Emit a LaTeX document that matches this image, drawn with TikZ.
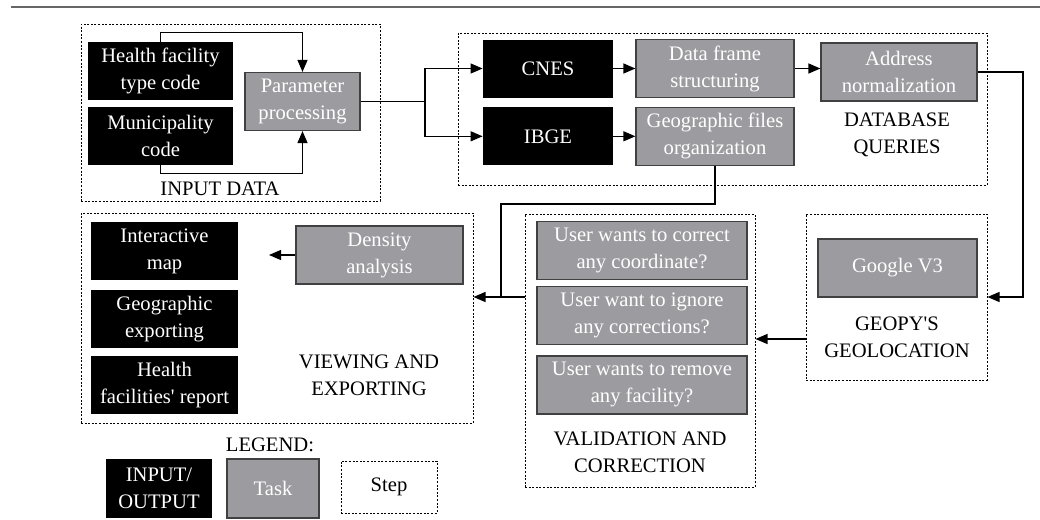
\documentclass[tikz,border=0pt]{standalone}
\usepackage{fontspec}
\setmainfont{Liberation Serif}
\usepackage{tikz}
\usetikzlibrary{arrows.meta, positioning}
\definecolor{taskgray}{RGB}{156,155,160}
\tikzset{
    >={Triangle[length=6pt,width=5pt]}, % solid triangle heads
    box/.style={inner sep=0pt, align=center, minimum height=29pt}, % common to every box
    io/.style={box, fill=black, text=white}, % input / output boxes
    task/.style={box, fill=taskgray, draw=black!75, line width=0.6pt, text=white}, % task boxes
    stage/.style={draw, line width=0.5pt, dash pattern=on 1pt off 0.8pt, inner sep=0pt}, % dotted frame round a step
    stagename/.style={align=center, inner sep=0pt}, % title of a step
    flow/.style={->, line width=0.6pt}, % connector with a head
    link/.style={line width=0.6pt}, % connector without a head
}

\begin{document}
\begin{tikzpicture}[x=0.5pt, y=-0.5pt, font=\fontsize{10.3}{13.5}\selectfont]
    \useasboundingbox (0,0) rectangle (1040,520);
    % rule along the top
    \draw[black!60, line width=1pt] (11,7) -- (1040,7);

    % frames of the steps
    \node[stage, minimum width=149.5pt, minimum height=88.5pt] (input) at (230.5,112.5) {};
    \node[stage, minimum width=264.5pt, minimum height=76pt] (dbq) at (722.5,109) {};
    \node[stage, minimum width=196pt, minimum height=105pt] (view) at (277,318) {};
    \node[stage, minimum width=115pt, minimum height=136.5pt] (valid) at (640,350.5) {};
    \node[stage, minimum width=90.5pt, minimum height=83pt] (geo) at (896.5,297) {};

    % input data
    \node[io, minimum width=72.5pt] (hf) at (160.5,71) {Health facility\\type code};
    \node[io, minimum width=72.5pt, below=3pt of hf] (mun) {Municipality\\code};
    \node[task, minimum width=57.5pt] (param) at (302.5,101.5) {Parameter\\processing};
    \node[stagename] (inputname) at (220,189) {INPUT DATA};

    % database queries
    \node[io, minimum width=65pt] (cnes) at (548,68.5) {CNES};
    \node[io, minimum width=65pt, below=4.5pt of cnes] (ibge) {IBGE};
    \node[task, minimum width=79pt, right=11pt of cnes] (dframe) {Data frame\\structuring};
    \node[task, minimum width=79pt, right=11pt of ibge] (gfiles) {Geographic files\\organization};
    \node[task, minimum width=78pt] (addr) at (899,72) {Address\\normalization};
    \node[stagename] (dbqname) at (897,135) {DATABASE\\QUERIES};

    % geolocation
    \node[task, minimum width=79.5pt] (gv3) at (897.5,268) {Google V3};
    \node[stagename] (geoname) at (897,337) {GEOPY\textquotesingle S\\GEOLOCATION};

    % validation and correction
    \node[task, minimum width=105pt] (q1) at (642,250.5) {User wants to correct\\any coordinate?};
    \node[task, minimum width=105pt, below=3pt of q1] (q2) {User want to ignore\\any corrections?};
    \node[task, minimum width=105pt, below=5pt of q2] (q3) {User wants to remove\\any facility?};
    \node[stagename] (validname) at (640,452) {VALIDATION AND\\CORRECTION};

    % viewing and exporting
    \node[io, minimum width=73.5pt] (imap) at (164.5,251) {Interactive\\map};
    \node[io, minimum width=73.5pt, below=4.5pt of imap] (gexp) {Geographic\\exporting};
    \node[io, minimum width=73.5pt, below=3.5pt of gexp] (report) {Health\\facilities\textquotesingle{} report};
    \node[task, minimum width=83.5pt] (dens) at (379.5,255) {Density\\analysis};
    \node[stagename] (viewname) at (369,375) {VIEWING AND\\EXPORTING};

    % legend
    \node[stagename] (legend) at (270,445) {LEGEND:};
    \node[io, minimum width=53pt, minimum height=29.5pt] (lio) at (159,488.5) {INPUT/\\OUTPUT};
    \node[task, minimum width=46pt, minimum height=29.5pt] (ltask) at (273,488.5) {Task};
    \node[stage, minimum width=48pt, minimum height=26pt] (lstep) at (389,487) {Step};

    % connectors
    \coordinate (split) at (425,101.5);
    \coordinate (merge) at (501,297);
    \coordinate (rgutter) at (1023,297);
    \coordinate (dout) at (269,255);

    \draw[flow] (hf.north) -- ++(0,-9) -| (param.north);
    \draw[flow] (mun.south) -- ++(0,8) -| (param.south);
    \draw[link] (param.east) -- (split);
    \draw[flow] (split) |- (cnes.west);
    \draw[flow] (split) |- (ibge.west);
    \draw[flow] (cnes) -- (dframe);
    \draw[flow] (ibge) -- (gfiles);
    \draw[flow] (dframe.east) -- (dframe.east -| addr.west);
    \draw[flow] (addr.east) -| (rgutter) -- (rgutter -| geo.east);
    \draw[flow] ([yshift=-21pt]geo.west) -- ([yshift=-21pt]geo.west -| valid.east);
    \draw[link] (gfiles.south) -- ++(0,38) -| (merge);
    \draw[flow] (merge -| valid.west) -- (merge -| view.east);
    \draw[flow] (dens) -- (dout);
\end{tikzpicture}
\end{document}
